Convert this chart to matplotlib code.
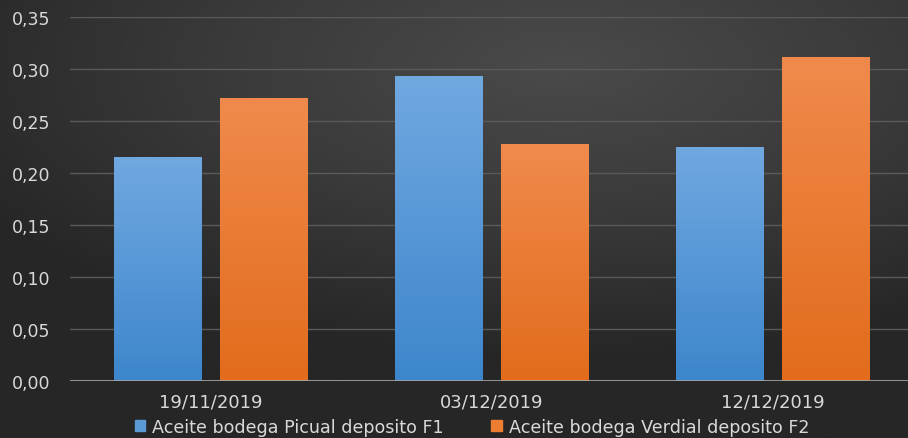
import numpy as np
import matplotlib
matplotlib.use("Agg")
import matplotlib.pyplot as plt
from matplotlib.patches import Patch
from matplotlib.colors import LinearSegmentedColormap

categories = ["19/11/2019", "03/12/2019", "12/12/2019"]
series_names = ["Aceite bodega Picual deposito F1", "Aceite bodega Verdial deposito F2"]
picual = [0.215, 0.293, 0.225]
verdial = [0.272, 0.228, 0.312]
yticks = [0.00, 0.05, 0.10, 0.15, 0.20, 0.25, 0.30, 0.35]

plt.rcParams['font.family'] = ['DejaVu Sans']

W, H = 908, 439
fig = plt.figure(figsize=(W/100, H/100), dpi=100)

# background radial gradient
bg = fig.add_axes([0, 0, 1, 1], zorder=-10)
yy, xx = np.mgrid[0:1:200j, 0:1:400j]
r = np.sqrt(((xx - 0.62) / 1.0) ** 2 + ((yy - 0.15) / 0.9) ** 2)
r = np.clip(r / 0.75, 0, 1)
bgcm = LinearSegmentedColormap.from_list("bg", ["#4a4a4a", "#3a3a3a", "#262626"])
bg.imshow(r, cmap=bgcm, aspect='auto', extent=[0, 1, 1, 0], vmin=0, vmax=1)
bg.axis('off')

ax = fig.add_axes([70/W, 1-382/H, 843/W, 364/H])
ax.set_facecolor('none')
x = np.arange(len(categories))
bw = 0.31
off = 0.19
b1 = ax.bar(x - off, picual, bw, color='#5b9bd5', zorder=3)
b2 = ax.bar(x + off, verdial, bw, color='#ed7d31', zorder=3)

def grad(bars, top, bottom):
    cm = LinearSegmentedColormap.from_list("g", [bottom, top])
    for p in bars:
        x0, y0 = p.get_x(), p.get_y()
        w, h = p.get_width(), p.get_height()
        g = np.linspace(0, 1, 100).reshape(-1, 1)
        im = ax.imshow(g, cmap=cm, aspect='auto', origin='lower',
                       extent=[x0, x0 + w, y0, y0 + h], zorder=4)
        im.set_clip_path(p)

grad(b1, '#70a8e0', '#3d86cc')
grad(b2, '#f08a4c', '#e26c1c')

ax.set_xlim(-0.5, 2.5)
ax.set_ylim(0, 0.35)
ax.set_yticks(yticks)
ax.set_yticklabels([f"{v:.2f}".replace('.', ',') for v in yticks])
ax.set_xticks(x)
ax.set_xticklabels(categories)
ax.tick_params(axis='both', length=0, colors='#d9d9d9', labelsize=12.5)
ax.tick_params(axis='x', labelsize=13)
ax.tick_params(axis='y', pad=14)
ax.tick_params(axis='x', pad=8)
for s in ax.spines.values():
    s.set_visible(False)
ax.grid(axis='y', color='#5a5a5a', linewidth=1, zorder=0)
ax.axhline(0, color='#a6a6a6', linewidth=1.2, zorder=5)

handles = [Patch(color='#5b9bd5'), Patch(color='#ed7d31')]
leg = fig.legend(handles, series_names, loc='center', ncol=2,
                 bbox_to_anchor=(472/W, 1-428/H), frameon=False, fontsize=12.6,
                 labelcolor='#d9d9d9', handlelength=0.6, handleheight=0.6,
                 handletextpad=0.4, columnspacing=2.7, borderpad=0)

fig.savefig("out.png", dpi=100)
